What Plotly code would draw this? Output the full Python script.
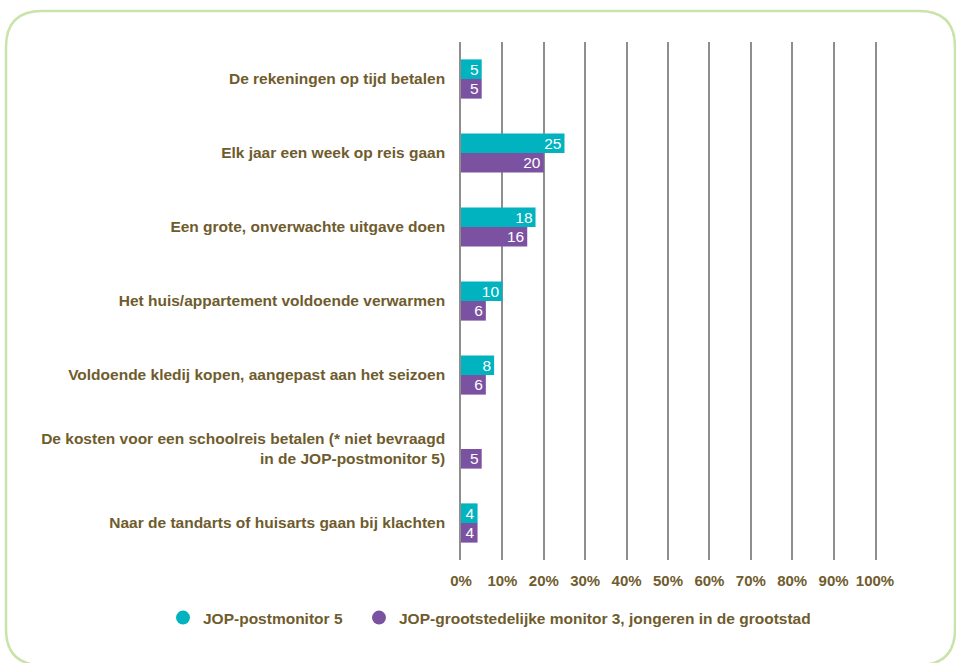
import plotly.graph_objects as go

categories = [
    "De rekeningen op tijd betalen",
    "Elk jaar een week op reis gaan",
    "Een grote, onverwachte uitgave doen",
    "Het huis/appartement voldoende verwarmen",
    "Voldoende kledij kopen, aangepast aan het seizoen",
    "De kosten voor een schoolreis betalen (* niet bevraagd<br>in de JOP-postmonitor 5)",
    "Naar de tandarts of huisarts gaan bij klachten",
]
postmonitor = [5, 25, 18, 10, 8, None, 4]
grootstad = [5, 20, 16, 6, 6, 5, 4]
series_names = ["JOP-postmonitor 5", "JOP-grootstedelijke monitor 3, jongeren in de grootstad"]
x_ticks = list(range(0, 101, 10))
x_ticktext = [f"{v}%" for v in x_ticks]

TEAL = "#00B3BF"
PURPLE = "#7B52A2"
BROWN = "#6f5c2e"
GRID = "#8e8e8e"
FONT = "Liberation Sans, Arial, sans-serif"

W, H = 956, 663
L, R, T, B = 461, 81, 42, 103
pw, ph = W - L - R, H - T - B

def px(x):
    return (x - L) / pw

def py(y):
    return (H - B - y) / ph

fig = go.Figure()
legend_ids = ["legend", "legend2"]
for vals, col, name, lg in [(postmonitor, TEAL, series_names[0], legend_ids[0]),
                            (grootstad, PURPLE, series_names[1], legend_ids[1])]:
    fig.add_trace(go.Bar(
        y=categories, x=vals, orientation="h", marker=dict(color=col, line=dict(width=0)),
        text=[("" if v is None else str(v)) for v in vals], textposition="inside",
        insidetextanchor="end", textangle=0,
        textfont=dict(color="white", size=15.5, family=FONT),
        constraintext="none", showlegend=False, name=name, hoverinfo="x+y",
    ))
    fig.add_trace(go.Scatter(
        x=[None], y=[None], mode="markers", name=name, legend=lg,
        marker=dict(color=col, size=14, symbol="circle"), showlegend=True,
    ))

# rounded frame (decoration)
x0, x1, y0, y1, r = 6, 955, 11, 665, 36
path = (
    f"M {px(x0+r)} {py(y0)} L {px(x1-r)} {py(y0)} "
    f"Q {px(x1)} {py(y0)} {px(x1)} {py(y0+r)} "
    f"L {px(x1)} {py(y1-r)} Q {px(x1)} {py(y1)} {px(x1-r)} {py(y1)} "
    f"L {px(x0+r)} {py(y1)} Q {px(x0)} {py(y1)} {px(x0)} {py(y1-r)} "
    f"L {px(x0)} {py(y0+r)} Q {px(x0)} {py(y0)} {px(x0+r)} {py(y0)} Z"
)

legend_common = dict(orientation="h", yanchor="middle", y=py(618),
                     font=dict(size=15.5, color=BROWN, family=FONT, weight="bold"), itemwidth=30,
                     bgcolor="rgba(0,0,0,0)", xanchor="left")

fig.update_layout(
    width=W, height=H,
    margin=dict(l=L, r=R, t=T, b=B, autoexpand=False),
    paper_bgcolor="white", plot_bgcolor="white",
    barmode="group", bargap=0.47, bargroupgap=0,
    font=dict(family=FONT, color=BROWN, size=15),
    xaxis=dict(range=[0, 100], tickmode="array", tickvals=x_ticks, ticktext=x_ticktext,
               showgrid=True, gridcolor=GRID, gridwidth=1.5, zeroline=False,
               showline=False, ticks="", ticklabelstandoff=10,
               tickfont=dict(size=15, color=BROWN, family=FONT, weight="bold"), fixedrange=True),
    yaxis=dict(autorange="reversed", showgrid=False, ticks="", ticklabelstandoff=11,
               tickfont=dict(size=15.5, color=BROWN, family=FONT, weight="bold"),
               showline=True, mirror=True, linecolor=GRID, linewidth=1.5, zeroline=False),
    legend=dict(x=px(163), **legend_common),
    legend2=dict(x=px(359), **legend_common),
    shapes=[dict(type="path", xref="paper", yref="paper", path=path,
                 line=dict(color="#c9e3a9", width=2.5), layer="below")],
)

fig.write_html("out.html", config={"displayModeBar": False},
               post_script="document.body.style.margin='0';document.body.style.padding='0';")
